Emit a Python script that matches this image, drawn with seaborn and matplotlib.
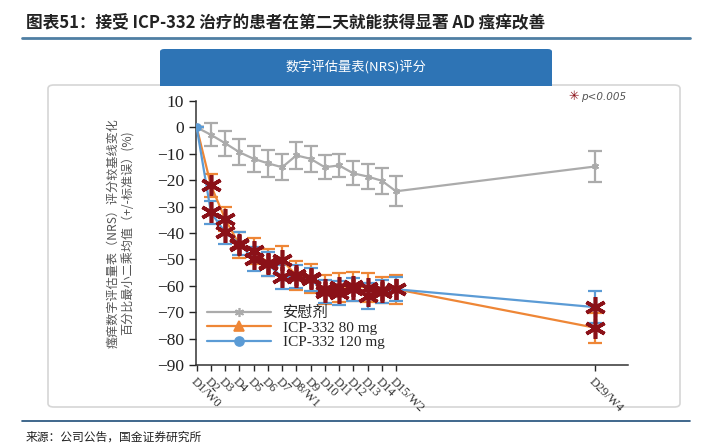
import numpy as np
import pandas as pd
import seaborn as sns
import matplotlib.pyplot as plt
from matplotlib.patches import FancyBboxPatch, Rectangle
from matplotlib.lines import Line2D

days = [1, 2, 3, 4, 5, 6, 7, 8, 9, 10, 11, 12, 13, 14, 15, 29]
day_labels = ["D1/W0", "D2", "D3", "D4", "D5", "D6", "D7", "D8/W1", "D9", "D10",
              "D11", "D12", "D13", "D14", "D15/W2", "D29/W4"]
groups = ["安慰剂", "ICP-332 80 mg", "ICP-332 120 mg"]

placebo = [0, -2.8, -6.0, -9.4, -11.9, -13.6, -15.1, -10.6, -11.9, -15.1,
           -14.4, -17.4, -18.6, -20.2, -24.2, -14.8]
placebo_se = [0, 4.4, 4.8, 5.0, 5.0, 5.0, 5.0, 5.0, 5.0, 4.5,
              4.5, 4.5, 4.8, 5.0, 5.7, 6.0]
dose80 = [0, -22.0, -34.7, -44.5, -46.8, -51.2, -50.3, -56.0, -57.2, -61.3,
          -60.5, -60.1, -60.7, -61.7, -61.3, -75.9]
dose80_se = [0, 4.5, 4.5, 5.0, 5.0, 5.0, 5.5, 5.5, 5.5, 5.5,
             5.5, 5.5, 5.5, 5.0, 5.5, 5.7]
dose120 = [0, -32.2, -39.8, -44.0, -49.9, -51.8, -56.7, -56.5, -57.6, -62.2,
           -62.6, -61.4, -63.9, -62.2, -61.3, -68.1]
dose120_se = [0, 4.5, 4.5, 4.5, 4.5, 4.5, 4.5, 4.5, 4.5, 4.5,
              4.5, 4.5, 5.0, 4.5, 4.5, 6.0]

colors = {"安慰剂": "#ababab", "ICP-332 80 mg": "#ee8636", "ICP-332 120 mg": "#5b9bd5"}
markers = {"安慰剂": (6, 2, 0), "ICP-332 80 mg": "^", "ICP-332 120 mg": "o"}
star_color = "#8b1118"

serif = ["Liberation Serif", "Noto Sans CJK SC"]
cjk = ["Noto Sans CJK SC", "DejaVu Sans"]


def main():
    sns.set_style("ticks")
    plt.rcParams["font.family"] = serif

    df = pd.concat([
        pd.DataFrame({"day": days, "value": v, "se": s, "group": g})
        for g, v, s in zip(groups, [placebo, dose80, dose120],
                           [placebo_se, dose80_se, dose120_se])
    ])

    fig = plt.figure(figsize=(7.28, 4.47), dpi=100)
    W, H = 728, 447

    # frame decorations
    fig.add_artist(Line2D([22 / W, 690 / W], [1 - 38 / H, 1 - 38 / H],
                          color="#4f7fa3", lw=2))
    fig.add_artist(Line2D([22 / W, 690 / W], [1 - 421 / H, 1 - 421 / H],
                          color="#1f4e79", lw=1.2))
    fig.patches.append(FancyBboxPatch(
        (48 / W, 1 - 407 / H), (680 - 48) / W, (407 - 85) / H,
        boxstyle="round,pad=0,rounding_size=0.008", transform=fig.transFigure,
        fc="white", ec="#d6d6d6", lw=1.2, zorder=-2))
    fig.patches.append(FancyBboxPatch(
        (160 / W, 1 - 86 / H), (552 - 160) / W, (86 - 49) / H,
        boxstyle="round,pad=0,rounding_size=0.006", transform=fig.transFigure,
        fc="#2e74b5", ec="none", zorder=-1))
    fig.patches.append(Rectangle(
        (160 / W, 1 - 86 / H), (552 - 160) / W, 10 / H,
        transform=fig.transFigure, fc="#2e74b5", ec="none", zorder=-1))

    fig.text(26 / W, 1 - 22 / H, "图表51：接受 ICP-332 治疗的患者在第二天就能获得显著 AD 瘙痒改善",
             family=cjk, fontsize=12, fontweight="bold", color="#222222",
             va="center", ha="left", style="italic")
    fig.text(356 / W, 1 - 67 / H, "数字评估量表(NRS)评分", family=cjk,
             fontsize=9.5, color="white", ha="center", va="center")
    fig.text(26 / W, 1 - 437 / H, "来源：公司公告，国金证券研究所", family=cjk,
             fontsize=8.5, color="#222222", ha="left", va="center")
    fig.text(568 / W, 1 - 97 / H, "✳", family=["DejaVu Sans"], fontsize=9,
             color=star_color, ha="left", va="center")
    fig.text(581 / W, 1 - 97 / H, "p<0.005", family=["DejaVu Sans"], fontsize=7.5,
             style="italic", color="#555555", ha="left", va="center")

    ax = fig.add_axes([196 / W, 1 - 365 / H, (628 - 196) / W, (365 - 101) / H])
    ax.set_facecolor("none")
    ax.set_zorder(3)

    for g in groups:
        sub = df[df["group"] == g]
        ax.errorbar(sub["day"], sub["value"], yerr=sub["se"], fmt="none",
                    ecolor=colors[g], elinewidth=1.6, capsize=5, capthick=1.6,
                    zorder=2)
        sns.lineplot(data=sub, x="day", y="value", color=colors[g],
                     marker=markers[g], errorbar=None, linewidth=1.6,
                     markersize=5, markeredgewidth=1.2,
                     markeredgecolor=colors[g], ax=ax, zorder=3)

    drugs = df[(df["group"] != "安慰剂") & (df["day"] > 1)]
    ax.plot(drugs["day"], drugs["value"], ls="none", marker=(6, 2, 0),
            ms=15, mew=2.6, color=star_color, zorder=5)

    handles = [Line2D([], [], color=colors[g], marker=markers[g], lw=1.6, ms=6.5,
                      mew=1.2) for g in groups]
    ax.legend(handles, groups, loc="lower left", bbox_to_anchor=(0.0, 0.02),
              frameon=False, fontsize=11, handlelength=4.2, labelspacing=0.05,
              handletextpad=0.8, borderaxespad=0.3)

    ax.set_xlim(0.95, 31.3)
    ax.set_ylim(-90, 10)
    ax.set_yticks(np.arange(-90, 11, 10))
    ax.set_xticks(days)
    ax.set_xticklabels(day_labels, rotation=-45, ha="left", va="top",
                       rotation_mode="anchor", fontsize=9, color="#333333")
    ax.tick_params(axis="y", labelsize=12.5, colors="#222222", length=5, width=1)
    ax.tick_params(axis="x", length=4, width=1)
    ax.set_xlabel("")
    ax.set_ylabel("瘙痒数字评估量表（NRS）评分较基线变化\n百分比最小二乘均值（+/-标准误）(%)",
                  family=cjk, fontsize=8.7, color="#555555", labelpad=16,
                  linespacing=1.2)
    for side in ["top", "right"]:
        ax.spines[side].set_visible(False)
    for side in ["left", "bottom"]:
        ax.spines[side].set_color("#333333")
        ax.spines[side].set_linewidth(1.1)

    fig.savefig("out.png", dpi=100)


if __name__ == "__main__":
    main()
